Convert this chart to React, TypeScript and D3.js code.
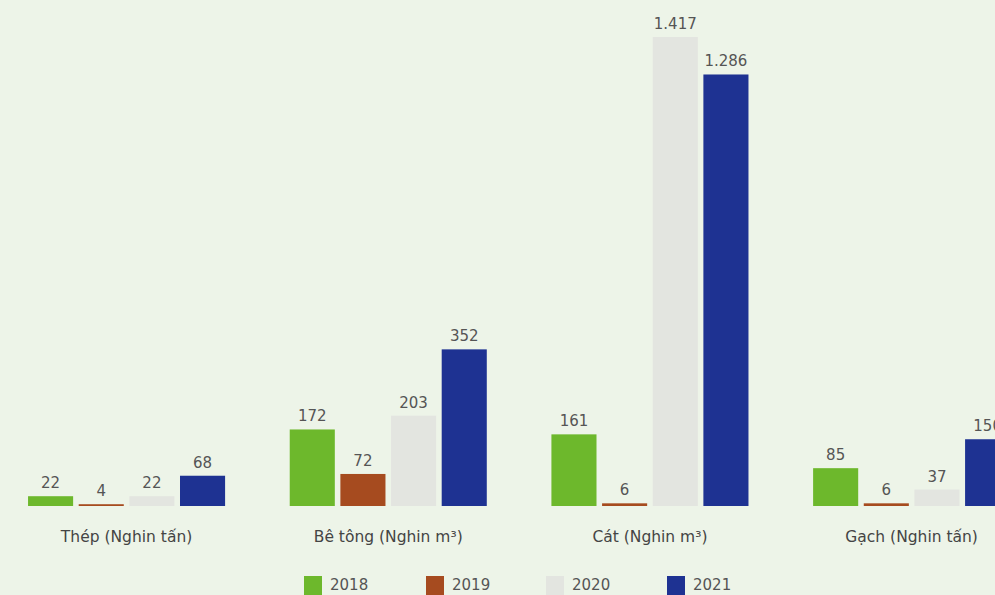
import React from "react";
import * as d3 from "d3";

const W = 995;
const H = 595;

const categories = ["Thép (Nghin tấn)", "Bê tông (Nghin m³)", "Cát (Nghin m³)", "Gạch (Nghin tấn)"];
const years = ["2018", "2019", "2020", "2021"];
const values2018 = [22, 172, 161, 85];
const values2019 = [4, 72, 6, 6];
const values2020 = [22, 203, 1417, 37];
const values2021 = [68, 352, 1286, 150];
const seriesValues = [values2018, values2019, values2020, values2021];
const colors = ["#6db82c", "#a64b1f", "#e3e5e0", "#1e3292"];

const fmt = d3.formatLocale({ decimal: ",", thousands: ".", grouping: [3], currency: ["", ""] }).format(",d");

export default function App() {
  const baseline = 506;
  const x0 = d3.scaleBand<string>().domain(categories).range([-36.6, 1074.8]).padding(0.247);
  const x1 = d3.scaleBand<string>().domain(years).range([0, x0.bandwidth()]).paddingInner(0.11).paddingOuter(0);
  // infographic uses a compressed scale for very large values
  const h = d3.scaleLinear().domain([0, 400, 1417]).range([0, 178, 469]);
  const font = "'DejaVu Sans', sans-serif";
  const textColor = "#555";
  const legendX = [304, 426, 546, 667];

  return (
    <svg width={W} height={H} style={{ position: "absolute", left: 0, top: 0 }} fontFamily={font}>
      <rect x={0} y={0} width={W} height={H} fill="#edf4e8" />
      {categories.map((cat, ci) => (
        <g key={cat} transform={`translate(${x0(cat)},0)`}>
          {years.map((yr, si) => {
            const v = seriesValues[si][ci];
            const bh = h(v);
            const bx = x1(yr)!;
            return (
              <g key={yr}>
                <rect x={bx} y={baseline - bh} width={x1.bandwidth()} height={bh} fill={colors[si]} />
                <text
                  x={bx + x1.bandwidth() / 2}
                  y={baseline - bh - 8}
                  textAnchor="middle"
                  fontSize={15}
                  fill={textColor}
                >
                  {fmt(v)}
                </text>
              </g>
            );
          })}
          <text x={x0.bandwidth() / 2} y={542} textAnchor="middle" fontSize={15.5} fill="#444">
            {cat}
          </text>
        </g>
      ))}
      {years.map((yr, si) => (
        <g key={yr} transform={`translate(${legendX[si]},576)`}>
          <rect x={0} y={0} width={18} height={19} fill={colors[si]} />
          <text x={26} y={14} fontSize={15} fill={textColor}>
            {yr}
          </text>
        </g>
      ))}
    </svg>
  );
}
